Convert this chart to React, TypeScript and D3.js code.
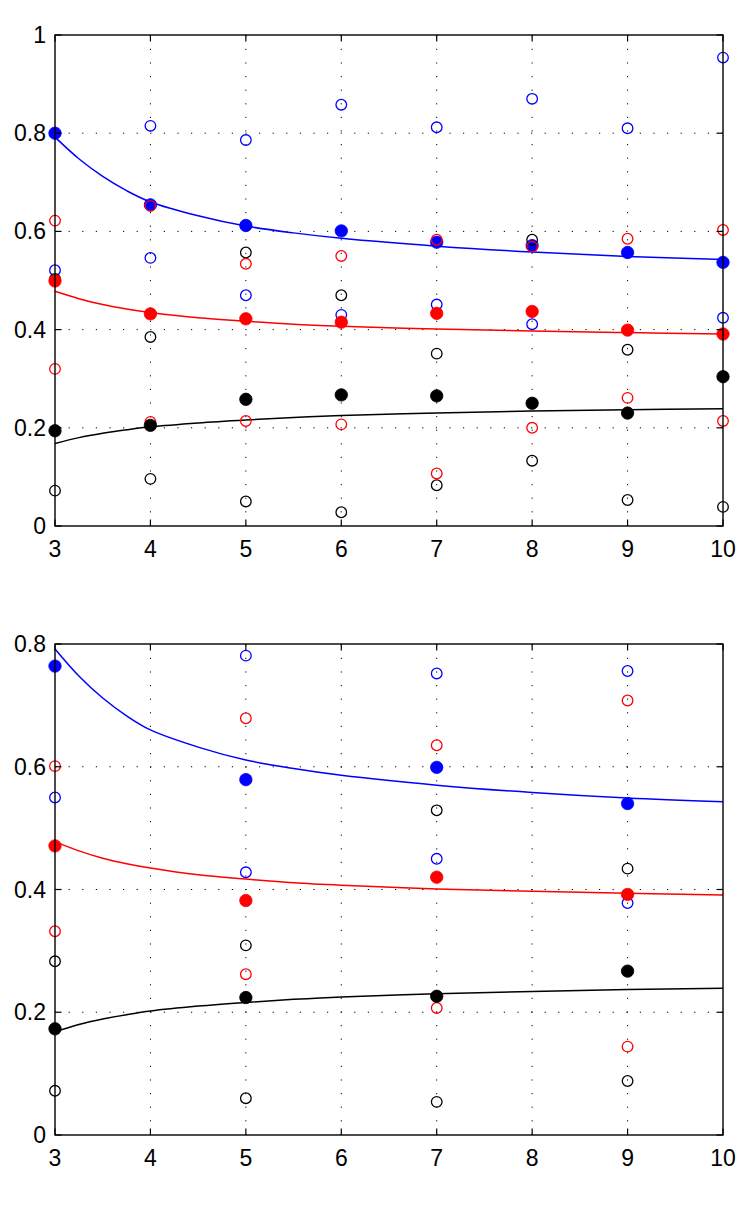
import * as d3 from 'd3';

// ---- data ----
const xTicksAll = [3, 4, 5, 6, 7, 8, 9, 10];
const topYTicks = [0, 0.2, 0.4, 0.6, 0.8, 1];
const bottomYTicks = [0, 0.2, 0.4, 0.6, 0.8];

// fitted curves (same in both panels)
const curveX = [3, 3.25, 3.5, 3.75, 4, 4.5, 5, 5.5, 6, 7, 8, 9, 10];
const blueCurve = [0.792, 0.748, 0.712, 0.683, 0.66, 0.632, 0.611, 0.597, 0.586, 0.57, 0.558, 0.549, 0.543];
const redCurve = [0.478, 0.463, 0.451, 0.442, 0.435, 0.424, 0.417, 0.411, 0.407, 0.401, 0.397, 0.394, 0.391];
const blackCurve = [0.168, 0.18, 0.189, 0.196, 0.202, 0.21, 0.216, 0.221, 0.225, 0.23, 0.234, 0.237, 0.239];

// top panel
const topX = [3, 4, 5, 6, 7, 8, 9, 10];
const topBlueFilled = [0.8, 0.654, 0.612, 0.601, 0.578, 0.571, 0.557, 0.537];
const topRedFilled = [0.499, 0.432, 0.422, 0.415, 0.433, 0.437, 0.399, 0.391];
const topBlackFilled = [0.194, 0.205, 0.258, 0.267, 0.265, 0.25, 0.23, 0.304];
const topBlueOpen: [number, number][] = [
  [3, 0.521], [4, 0.815], [4, 0.546], [5, 0.786], [5, 0.47], [6, 0.858], [6, 0.43],
  [7, 0.812], [7, 0.451], [8, 0.87], [8, 0.411], [9, 0.81], [10, 0.954], [10, 0.424],
];
const topRedOpen: [number, number][] = [
  [3, 0.622], [3, 0.32], [4, 0.652], [4, 0.212], [5, 0.534], [5, 0.214], [6, 0.55], [6, 0.207],
  [7, 0.583], [7, 0.107], [8, 0.569], [8, 0.2], [9, 0.585], [9, 0.261], [10, 0.603], [10, 0.214],
];
const topBlackOpen: [number, number][] = [
  [3, 0.503], [3, 0.072], [4, 0.385], [4, 0.096], [5, 0.557], [5, 0.05], [6, 0.47], [6, 0.028],
  [7, 0.351], [7, 0.083], [8, 0.583], [8, 0.133], [9, 0.359], [9, 0.053], [10, 0.039],
];

// bottom panel
const bottomX = [3, 5, 7, 9];
const bottomBlueFilled = [0.764, 0.579, 0.599, 0.54];
const bottomRedFilled = [0.471, 0.382, 0.42, 0.392];
const bottomBlackFilled = [0.173, 0.224, 0.226, 0.267];
const bottomBlueOpen: [number, number][] = [
  [3, 0.55], [5, 0.781], [5, 0.428], [7, 0.752], [7, 0.45], [9, 0.756], [9, 0.378],
];
const bottomRedOpen: [number, number][] = [
  [3, 0.601], [3, 0.332], [5, 0.679], [5, 0.262], [7, 0.635], [7, 0.207], [9, 0.708], [9, 0.144],
];
const bottomBlackOpen: [number, number][] = [
  [3, 0.283], [3, 0.072], [5, 0.309], [5, 0.06], [7, 0.529], [7, 0.054], [9, 0.434], [9, 0.088],
];

const BLUE = '#0000ff';
const RED = '#ff0000';
const BLACK = '#000000';
const FONT = 'Liberation Sans, Arial, Helvetica, sans-serif';

interface PanelProps {
  top: number;
  bottom: number;
  yMax: number;
  yTicks: number[];
  xs: number[];
  blueFilled: number[];
  redFilled: number[];
  blackFilled: number[];
  blueOpen: [number, number][];
  redOpen: [number, number][];
  blackOpen: [number, number][];
}

const LEFT = 55;
const RIGHT = 723;
const TICK = 6.5;

function Panel(p: PanelProps) {
  const x = d3.scaleLinear().domain([3, 10]).range([LEFT, RIGHT]);
  const y = d3.scaleLinear().domain([0, p.yMax]).range([p.bottom, p.top]);

  const line = d3
    .line<number>()
    .x((_, i) => x(curveX[i]))
    .y((d) => y(d))
    .curve(d3.curveCatmullRom.alpha(0.5));

  const openDots = (pts: [number, number][], color: string, key: string) =>
    pts.map(([a, b], i) => (
      <circle key={key + i} cx={x(a)} cy={y(b)} r={5.3} fill='none' stroke={color} strokeWidth={1.3} />
    ));
  const filledDots = (vals: number[], color: string, key: string) =>
    vals.map((v, i) => (
      <circle key={key + i} cx={x(p.xs[i])} cy={y(v)} r={6.2} fill={color} stroke={color} strokeWidth={0.8} />
    ));

  return (
    <g>
      {/* dotted grid */}
      {xTicksAll.slice(1, -1).map((t) => (
        <line key={'gx' + t} x1={x(t)} x2={x(t)} y1={p.bottom} y2={p.top}
          stroke='#000' strokeWidth={1} strokeDasharray='1.2 12.4' />
      ))}
      {p.yTicks.slice(1, -1).map((t) => (
        <line key={'gy' + t} x1={LEFT} x2={RIGHT} y1={y(t)} y2={y(t)}
          stroke='#000' strokeWidth={1} strokeDasharray='1.2 12.4' />
      ))}

      {/* curves */}
      <path d={line(blueCurve) ?? ''} fill='none' stroke={BLUE} strokeWidth={1.5} />
      <path d={line(redCurve) ?? ''} fill='none' stroke={RED} strokeWidth={1.5} />
      <path d={line(blackCurve) ?? ''} fill='none' stroke={BLACK} strokeWidth={1.5} />

      {/* markers */}
      {openDots(p.blueOpen, BLUE, 'bo')}
      {filledDots(p.blueFilled, BLUE, 'bf')}
      {openDots(p.blackOpen, BLACK, 'ko')}
      {openDots(p.redOpen, RED, 'ro')}
      {filledDots(p.blackFilled, BLACK, 'kf')}
      {filledDots(p.redFilled, RED, 'rf')}

      {/* box */}
      <rect x={LEFT} y={p.top} width={RIGHT - LEFT} height={p.bottom - p.top}
        fill='none' stroke='#000' strokeWidth={1.4} />

      {/* ticks */}
      {xTicksAll.map((t) => (
        <g key={'tx' + t}>
          <line x1={x(t)} x2={x(t)} y1={p.bottom} y2={p.bottom - TICK} stroke='#000' strokeWidth={1.2} />
          <line x1={x(t)} x2={x(t)} y1={p.top} y2={p.top + TICK} stroke='#000' strokeWidth={1.2} />
          <text x={x(t)} y={p.bottom + 31} textAnchor='middle' fontSize={23} fontFamily={FONT}>
            {t}
          </text>
        </g>
      ))}
      {p.yTicks.map((t) => (
        <g key={'ty' + t}>
          <line x1={LEFT} x2={LEFT + TICK} y1={y(t)} y2={y(t)} stroke='#000' strokeWidth={1.2} />
          <line x1={RIGHT} x2={RIGHT - TICK} y1={y(t)} y2={y(t)} stroke='#000' strokeWidth={1.2} />
          <text x={46} y={y(t)} textAnchor='end' dominantBaseline='central' fontSize={23} fontFamily={FONT}>
            {t}
          </text>
        </g>
      ))}
    </g>
  );
}

export default function App() {
  return (
    <svg width={747} height={1206} viewBox='0 0 747 1206'
      style={{ position: 'absolute', left: 0, top: 0, background: '#fff' }}>
      <rect width={747} height={1206} fill='#fff' />
      <Panel top={35} bottom={526} yMax={1} yTicks={topYTicks} xs={topX}
        blueFilled={topBlueFilled} redFilled={topRedFilled} blackFilled={topBlackFilled}
        blueOpen={topBlueOpen} redOpen={topRedOpen} blackOpen={topBlackOpen} />
      <Panel top={644} bottom={1135} yMax={0.8} yTicks={bottomYTicks} xs={bottomX}
        blueFilled={bottomBlueFilled} redFilled={bottomRedFilled} blackFilled={bottomBlackFilled}
        blueOpen={bottomBlueOpen} redOpen={bottomRedOpen} blackOpen={bottomBlackOpen} />
    </svg>
  );
}
